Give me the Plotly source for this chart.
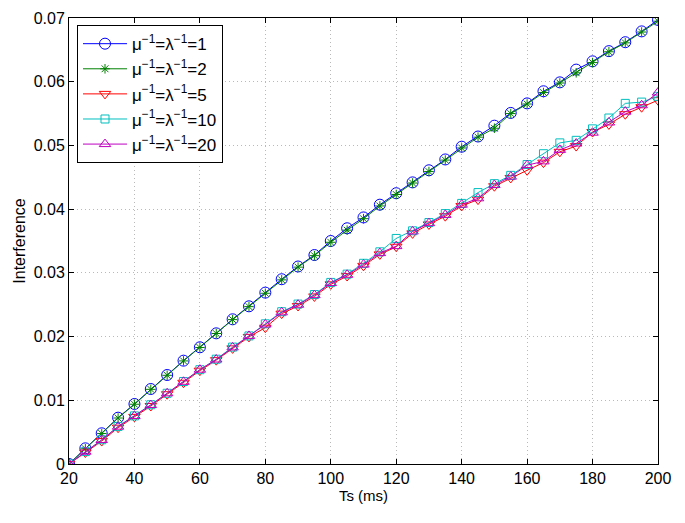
import plotly.graph_objects as go

ts = list(range(20, 201, 5))

s1 = [0.0, 0.00246, 0.00482, 0.00727, 0.00942, 0.01177, 0.01397, 0.01622, 0.01832, 0.02051,
      0.02271, 0.02475, 0.0269, 0.0290, 0.0310, 0.0328, 0.0350, 0.0370, 0.0387, 0.0407,
      0.0425, 0.0442, 0.0461, 0.0478, 0.0498, 0.0514, 0.0531, 0.0551, 0.0566, 0.0585,
      0.0599, 0.0619, 0.0632, 0.0648, 0.0662, 0.0679, 0.0697]
s2 = [0.0, 0.00240, 0.00478, 0.00722, 0.00938, 0.01172, 0.01392, 0.01618, 0.01828, 0.02048,
      0.02266, 0.02470, 0.0268, 0.0289, 0.0309, 0.0327, 0.0348, 0.0367, 0.0385, 0.0405,
      0.0423, 0.0441, 0.0459, 0.0477, 0.0496, 0.0513, 0.0527, 0.0550, 0.0565, 0.0583,
      0.0598, 0.0614, 0.0630, 0.0647, 0.0661, 0.0678, 0.0695]
s5 = [0.0, 0.00180, 0.00360, 0.00570, 0.00740, 0.00910, 0.01095, 0.01275, 0.01465, 0.01630,
      0.01815, 0.01995, 0.0214, 0.0236, 0.0248, 0.0263, 0.0282, 0.0295, 0.0311, 0.0329,
      0.0341, 0.0362, 0.0376, 0.0389, 0.0405, 0.0415, 0.0436, 0.0449, 0.0461, 0.0473,
      0.0490, 0.0499, 0.0521, 0.0533, 0.0549, 0.0560, 0.0571]
s10 = [0.0, 0.00195, 0.00380, 0.00590, 0.00755, 0.00930, 0.01110, 0.01295, 0.01480, 0.01645,
       0.01835, 0.02010, 0.0220, 0.0239, 0.0251, 0.0266, 0.0285, 0.0298, 0.0315, 0.0333,
       0.0354, 0.0366, 0.0379, 0.0393, 0.0409, 0.0426, 0.0440, 0.0453, 0.0470, 0.0487,
       0.0504, 0.0508, 0.0526, 0.0543, 0.0566, 0.0568, 0.0577]
s20 = [0.0, 0.00193, 0.00377, 0.00586, 0.00754, 0.00926, 0.01110, 0.01290, 0.01480, 0.01640,
       0.01830, 0.02010, 0.0219, 0.0238, 0.0250, 0.0265, 0.0284, 0.0297, 0.0313, 0.0331,
       0.0342, 0.0365, 0.0378, 0.0391, 0.0407, 0.0417, 0.0438, 0.0451, 0.0469, 0.0475,
       0.0493, 0.0503, 0.0520, 0.0536, 0.0553, 0.0563, 0.0583]

names = ["μ<sup>−1</sup>=λ<sup>−1</sup>=1", "μ<sup>−1</sup>=λ<sup>−1</sup>=2",
         "μ<sup>−1</sup>=λ<sup>−1</sup>=5", "μ<sup>−1</sup>=λ<sup>−1</sup>=10",
         "μ<sup>−1</sup>=λ<sup>−1</sup>=20"]
series = [s1, s2, s5, s10, s20]
colors = ["rgb(0,0,255)", "rgb(0,128,0)", "rgb(255,0,0)", "rgb(0,191,191)", "rgb(191,0,191)"]
symbols = ["circle-open", "asterisk-open", "triangle-down-open", "square-open", "triangle-up-open"]
sizes = [11, 8, 10, 8, 10]

fig = go.Figure()
for i, (n, s, c, sym, sz) in enumerate(zip(names, series, colors, symbols, sizes)):
    fig.add_trace(go.Scatter(
        x=ts, y=s, name=n, mode="lines+markers", legendgroup=f"g{i}",
        line=dict(color=c, width=1),
        marker=dict(symbol=sym, size=sz, color=c, line=dict(color=c, width=1)),
    ))

FONT = "Liberation Sans, Arial"
axis_common = dict(
    showline=True, linecolor="black", linewidth=1, mirror="ticks",
    ticks="inside", ticklen=5, tickcolor="black", automargin=False,
    showgrid=True, gridcolor="rgb(185,185,185)", griddash="1px,3px", gridwidth=1,
    zeroline=False, tickfont=dict(family=FONT, size=16, color="black"),
)

fig.update_xaxes(range=[20, 200], dtick=20, tick0=20,
                 title=dict(text="Ts (ms)", font=dict(family=FONT, size=15, color="black"), standoff=2),
                 **axis_common)
fig.update_yaxes(range=[0, 0.07], dtick=0.01, tick0=0,
                 title=dict(text="Interference", font=dict(family=FONT, size=16, color="black"), standoff=4),
                 **axis_common)

fig.update_layout(
    width=677, height=515,
    margin=dict(l=61, r=27, t=10, b=59),
    plot_bgcolor="white", paper_bgcolor="white",
    font=dict(family=FONT, color="black"),
    legend=dict(x=0.0136, y=0.984, xanchor="left", yanchor="top",
                bgcolor="white", bordercolor="black", borderwidth=1,
                font=dict(family=FONT, size=17, color="black"),
                tracegroupgap=0, itemwidth=44),
)

fig.write_html("out.html")
